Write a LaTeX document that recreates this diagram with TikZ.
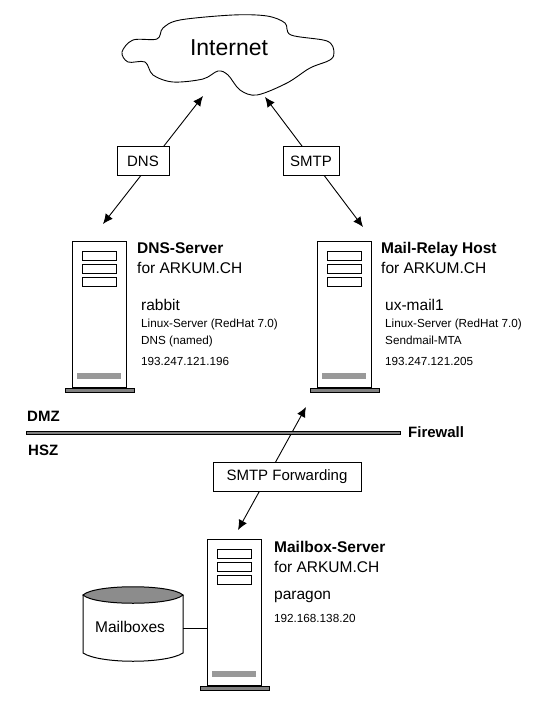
\documentclass[tikz,border=0pt]{standalone}
\usepackage{fontspec}
\setmainfont{Liberation Sans}
\usetikzlibrary{arrows.meta}
\newcommand{\fsz}[1]{\fontsize{#1}{#1}\selectfont}
\tikzset{
  ln/.style={draw=black,line width=1pt},
  conn/.style={draw=black,line width=0.9pt,{Latex[length=10pt,width=9pt]}-{Latex[length=10pt,width=9pt]}},
  labelbox/.style={ln,fill=white,minimum height=29pt,inner sep=0pt,font=\fsz{15}},
  head/.style={anchor=base west,inner sep=0pt,font=\fsz{15.5}\bfseries},
  big/.style={anchor=base west,inner sep=0pt,font=\fsz{15.5}},
  small/.style={anchor=base west,inner sep=0pt,font=\fsz{11.7}},
  zone/.style={anchor=base west,inner sep=0pt,font=\fsz{15}\bfseries},
  bar/.style={ln,fill=black!50,line width=0.7pt},
  pserver/.pic={
    \draw[ln,fill=white] (-27,-73) rectangle (27,73);
    \draw[ln] (-17,-63) rectangle (17,-54);
    \draw[ln] (-17,-50) rectangle (17,-41);
    \draw[ln] (-17,-37) rectangle (17,-28);
    \fill[black!40] (-22,59) rectangle (22,65);
    \draw[bar] (-34,74) rectangle (35,78);
  }
}
\begin{document}
\begin{tikzpicture}[x=1pt,y=-1pt]
\useasboundingbox (0,0) rectangle (535,711);
% cloud
\draw[ln,fill=white,line width=0.9pt] plot[smooth cycle,tension=0.55] coordinates {
 (122,52) (133,40) (157,39) (163,28) (180,20) (233,15) (267,16) (285,23) (291,35) (327,41) (334,52)
 (330,60) (310,68) (287,83) (257,95) (240,90) (228,75) (218,71) (203,79) (173,82) (153,75) (145,62) (128,62)};
\node[inner sep=0pt,font=\fsz{23}] (internet) at (229,48) {Internet};
% arrow ends
\coordinate (inetL) at (203,96);
\coordinate (inetR) at (265,97);
\coordinate (dnsT) at (103,224);
\coordinate (relayT) at (363,227);
\coordinate (relayB) at (306,407);
\coordinate (mailT) at (238,530);
% arrows
\draw[conn] (dnsT) -- (inetL);
\draw[conn] (relayT) -- (inetR);
\draw[conn] (mailT) -- (relayB);
% label boxes
\node[labelbox,minimum width=52pt] (dnsl) at (143,161) {DNS};
\node[labelbox,minimum width=56pt] (smtpl) at (311,161) {SMTP};
\node[labelbox,minimum width=148pt] (fwdl) at (287,476.5) {SMTP Forwarding};
% servers
\coordinate (s1) at (99,314);
\coordinate (s2) at (344,314);
\coordinate (s3) at (234,612);
\pic at (s1) {pserver};
\pic at (s2) {pserver};
\pic at (s3) {pserver};
% DNS text
\node[head] (t1a) at (137,253) {DNS-Server};
\node[big] (t1b) at (137,273) {for ARKUM.CH};
\node[big] (t1c) at (141,310) {rabbit};
\node[small] (t1d) at (141,327) {Linux-Server (RedHat 7.0)};
\node[small] (t1e) at (141,344) {DNS (named)};
\node[small] (t1f) at (141,365) {193.247.121.196};
% relay text
\node[head] (t2a) at (381,253) {Mail-Relay Host};
\node[big] (t2b) at (381,273) {for ARKUM.CH};
\node[big] (t2c) at (385,310) {ux-mail1};
\node[small] (t2d) at (385,327) {Linux-Server (RedHat 7.0)};
\node[small] (t2e) at (385,344) {Sendmail-MTA};
\node[small] (t2f) at (385,365) {193.247.121.205};
% mailbox text
\node[head] (t3a) at (274,552) {Mailbox-Server};
\node[big] (t3b) at (274,572) {for ARKUM.CH};
\node[big] (t3c) at (274,599) {paragon};
\node[small] (t3d) at (274,622) {192.168.138.20};
% firewall
\draw[bar] (26,431) rectangle (400,434);
\node[zone] (dmz) at (27,421) {DMZ};
\node[zone] (hsz) at (28,455) {HSZ};
\node[zone] (fw) at (408,437) {Firewall};
% cylinder
\draw[ln,fill=white] (83,595) -- (83,653) .. controls (100,664) and (166,664) .. (183,653) -- (183,595);
\draw[ln,fill=black!45] (83,595) .. controls (95,584) and (171,584) .. (183,595) .. controls (171,606) and (95,606) .. (83,595) -- cycle;
\node[inner sep=0pt,font=\fsz{15.5}] (mb) at (130,627) {Mailboxes};
\coordinate (cylR) at (183,628);
\coordinate (srvL) at (207,628);
\draw[ln] (cylR) -- (srvL);
\end{tikzpicture}
\end{document}
